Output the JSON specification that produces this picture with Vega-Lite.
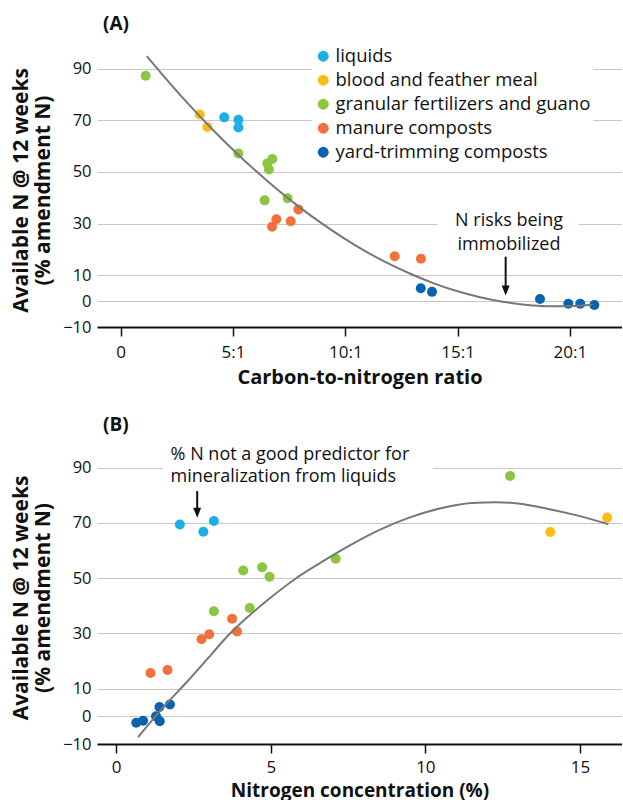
{
  "$schema": "https://vega.github.io/schema/vega-lite/v6.json",
  "padding": {"left": 10, "top": 15, "right": 0, "bottom": 0},
  "spacing": 29,
  "config": {
    "font": "Open Sans",
    "view": {"stroke": null},
    "axis": {"labelFontSize": 17, "labelColor": "#111", "titleFontSize": 20, "titleFontWeight": "bold", "titleColor": "#111", "labelFont": "Open Sans", "titleFont": "Open Sans"},
    "axisX": {"grid": false, "domainColor": "#111", "domainWidth": 2, "tickColor": "#111", "tickWidth": 1.5, "tickSize": 9, "labelPadding": 8, "titlePadding": 7, "zindex": 1},
    "axisY": {"grid": true, "gridColor": "#c8c8c8", "gridWidth": 1.2, "domain": false, "ticks": false, "labelPadding": 6, "labelFontSize": 16.5, "titleFontSize": 21, "titlePadding": 9, "titleLineHeight": 22},
    "title": {"fontSize": 19, "fontWeight": "bold", "anchor": "start", "frame": "group", "offset": 11, "dx": 6, "color": "#111", "font": "Open Sans"}
  },
  "resolve": {"legend": {"color": "independent"}},
  "datasets": {
    "cn": [
      {"type": "granular fertilizers and guano", "cn": 1.11, "avail": 87.2},
      {"type": "blood and feather meal", "cn": 3.52, "avail": 72.2},
      {"type": "blood and feather meal", "cn": 3.86, "avail": 67.4},
      {"type": "liquids", "cn": 4.61, "avail": 71.1},
      {"type": "liquids", "cn": 5.24, "avail": 70.2},
      {"type": "liquids", "cn": 5.24, "avail": 67.2},
      {"type": "granular fertilizers and guano", "cn": 5.24, "avail": 57.1},
      {"type": "granular fertilizers and guano", "cn": 6.75, "avail": 55.0},
      {"type": "granular fertilizers and guano", "cn": 6.53, "avail": 53.3},
      {"type": "granular fertilizers and guano", "cn": 6.6, "avail": 50.9},
      {"type": "granular fertilizers and guano", "cn": 6.41, "avail": 39.0},
      {"type": "granular fertilizers and guano", "cn": 7.43, "avail": 39.8},
      {"type": "manure composts", "cn": 7.91, "avail": 35.5},
      {"type": "manure composts", "cn": 6.93, "avail": 31.7},
      {"type": "manure composts", "cn": 7.57, "avail": 30.9},
      {"type": "manure composts", "cn": 6.74, "avail": 28.8},
      {"type": "manure composts", "cn": 12.2, "avail": 17.4},
      {"type": "manure composts", "cn": 13.37, "avail": 16.4},
      {"type": "yard-trimming composts", "cn": 13.36, "avail": 5.0},
      {"type": "yard-trimming composts", "cn": 13.86, "avail": 3.6},
      {"type": "yard-trimming composts", "cn": 18.67, "avail": 0.8},
      {"type": "yard-trimming composts", "cn": 19.93, "avail": -1.0},
      {"type": "yard-trimming composts", "cn": 20.46, "avail": -1.0},
      {"type": "yard-trimming composts", "cn": 21.09, "avail": -1.5}
    ],
    "cnTrend": [
      {"cn": 1.16, "avail": 94.8}, {"cn": 2, "avail": 86.2}, {"cn": 3, "avail": 76.4}, {"cn": 4, "avail": 67.2},
      {"cn": 5, "avail": 58.6}, {"cn": 6, "avail": 50.5}, {"cn": 7, "avail": 43.0}, {"cn": 8, "avail": 36.1},
      {"cn": 9, "avail": 29.8}, {"cn": 10, "avail": 24.0}, {"cn": 11, "avail": 18.8}, {"cn": 12, "avail": 14.2},
      {"cn": 13, "avail": 10.2}, {"cn": 14, "avail": 6.7}, {"cn": 15, "avail": 3.8}, {"cn": 16, "avail": 1.5},
      {"cn": 17, "avail": -0.2}, {"cn": 18, "avail": -1.35}, {"cn": 19, "avail": -1.93}, {"cn": 20, "avail": -1.93},
      {"cn": 21, "avail": -1.4}
    ],
    "pn": [
      {"type": "liquids", "pn": 2.06, "avail": 69.4},
      {"type": "liquids", "pn": 2.82, "avail": 66.8},
      {"type": "liquids", "pn": 3.16, "avail": 70.7},
      {"type": "blood and feather meal", "pn": 14.04, "avail": 66.7},
      {"type": "blood and feather meal", "pn": 15.88, "avail": 71.9},
      {"type": "granular fertilizers and guano", "pn": 12.74, "avail": 87.0},
      {"type": "granular fertilizers and guano", "pn": 7.1, "avail": 57.0},
      {"type": "granular fertilizers and guano", "pn": 4.11, "avail": 52.8},
      {"type": "granular fertilizers and guano", "pn": 4.72, "avail": 53.9},
      {"type": "granular fertilizers and guano", "pn": 4.96, "avail": 50.5},
      {"type": "granular fertilizers and guano", "pn": 3.16, "avail": 38.0},
      {"type": "granular fertilizers and guano", "pn": 4.32, "avail": 39.2},
      {"type": "manure composts", "pn": 3.75, "avail": 35.3},
      {"type": "manure composts", "pn": 3.91, "avail": 30.7},
      {"type": "manure composts", "pn": 3.01, "avail": 29.7},
      {"type": "manure composts", "pn": 2.76, "avail": 27.9},
      {"type": "manure composts", "pn": 1.11, "avail": 15.7},
      {"type": "manure composts", "pn": 1.66, "avail": 16.8},
      {"type": "yard-trimming composts", "pn": 1.74, "avail": 4.3},
      {"type": "yard-trimming composts", "pn": 1.4, "avail": 3.4},
      {"type": "yard-trimming composts", "pn": 1.29, "avail": 0.0},
      {"type": "yard-trimming composts", "pn": 1.41, "avail": -1.8},
      {"type": "yard-trimming composts", "pn": 0.87, "avail": -1.6},
      {"type": "yard-trimming composts", "pn": 0.65, "avail": -2.3}
    ],
    "pnTrend": [
      {"pn": 0.71, "avail": -7.5}, {"pn": 1.5, "avail": 3.0}, {"pn": 2.3, "avail": 12.6}, {"pn": 3.0, "avail": 21.4},
      {"pn": 3.65, "avail": 29.6}, {"pn": 4.3, "avail": 36.4}, {"pn": 5.0, "avail": 43.0}, {"pn": 5.8, "avail": 49.8},
      {"pn": 6.6, "avail": 55.5}, {"pn": 7.5, "avail": 61.5}, {"pn": 8.5, "avail": 67.4}, {"pn": 9.5, "avail": 72.0},
      {"pn": 10.5, "avail": 75.3}, {"pn": 11.5, "avail": 77.2}, {"pn": 12.3, "avail": 77.5}, {"pn": 13.0, "avail": 77.0},
      {"pn": 13.9, "avail": 75.2}, {"pn": 14.9, "avail": 72.7}, {"pn": 15.92, "avail": 69.5}
    ]
  },
  "vconcat": [
    {
      "title": "(A)",
      "width": 525,
      "height": 274,
      "layer": [
        {
          "data": {"values": [{}]},
          "mark": {"type": "rect", "fill": "white"},
          "encoding": {
            "x": {"datum": 14.1, "type": "quantitative"},
            "x2": {"datum": 20.4},
            "y": {"datum": 35.5, "type": "quantitative"},
            "y2": {"datum": 17.3}
          }
        },
        {
          "data": {"name": "cn"},
          "mark": {"type": "circle", "size": 100, "opacity": 1},
          "encoding": {
            "x": {"field": "cn", "type": "quantitative", "scale": {"domain": [-1.055, 22.32], "nice": false, "zero": false},
              "axis": {"values": [0, 5, 10, 15, 20], "labelExpr": "datum.value == 0 ? '0' : datum.value + ':1'", "title": "Carbon-to-nitrogen ratio"}},
            "y": {"field": "avail", "type": "quantitative", "scale": {"domain": [-10, 96], "nice": false, "zero": false},
              "axis": {"values": [-10, 0, 10, 30, 50, 70, 90], "title": ["Available N @ 12 weeks", "(% amendment N)"]}},
            "color": {"field": "type", "type": "nominal",
              "scale": {"domain": ["liquids", "blood and feather meal", "granular fertilizers and guano", "manure composts", "yard-trimming composts"], "range": ["#1cb0e6", "#fdbb16", "#8cc63f", "#f2703c", "#0a63b0"]},
              "legend": {"orient": "none", "legendX": 215, "legendY": -8, "title": null, "fillColor": "white", "padding": 2, "labelFontSize": 18.5, "labelColor": "#111", "labelOffset": 3, "labelLimit": 500, "symbolType": "circle", "symbolSize": 120, "symbolStrokeWidth": 0, "symbolOpacity": 1, "rowPadding": 5, "labelFont": "Open Sans"}}
          }
        },
        {
          "data": {"name": "cnTrend"},
          "mark": {"type": "line", "color": "#777777", "strokeWidth": 2, "interpolate": "monotone"},
          "encoding": {
            "x": {"field": "cn", "type": "quantitative"},
            "y": {"field": "avail", "type": "quantitative"}
          }
        },
        {
          "data": {"values": [{}]},
          "mark": {"type": "rule", "color": "#111", "strokeWidth": 2},
          "encoding": {
            "x": {"datum": 17.14, "type": "quantitative"},
            "y": {"datum": 17.2, "type": "quantitative"},
            "y2": {"datum": 5.3}
          }
        },
        {
          "data": {"values": [{}]},
          "mark": {"type": "point", "shape": "M-0.8,-1L0.8,-1L0,1Z", "size": 100, "filled": true, "color": "#111", "opacity": 1},
          "encoding": {
            "x": {"datum": 17.14, "type": "quantitative"},
            "y": {"datum": 4.15, "type": "quantitative"}
          }
        },
        {
          "data": {"values": [{}]},
          "mark": {"type": "text", "fontSize": 18, "color": "#111", "align": "center", "baseline": "middle", "font": "Open Sans"},
          "encoding": {
            "x": {"datum": 17.29, "type": "quantitative"},
            "y": {"datum": 30.9, "type": "quantitative"},
            "text": {"value": "N risks being"}
          }
        },
        {
          "data": {"values": [{}]},
          "mark": {"type": "text", "fontSize": 18, "color": "#111", "align": "center", "baseline": "middle", "font": "Open Sans"},
          "encoding": {
            "x": {"datum": 17.29, "type": "quantitative"},
            "y": {"datum": 21.6, "type": "quantitative"},
            "text": {"value": "immobilized"}
          }
        }
      ]
    },
    {
      "title": "(B)",
      "width": 525,
      "height": 293,
      "layer": [
        {
          "data": {"values": [{}]},
          "mark": {"type": "rect", "fill": "white"},
          "encoding": {
            "x": {"datum": 1.5, "type": "quantitative"},
            "x2": {"datum": 10.25},
            "y": {"datum": 96, "type": "quantitative"},
            "y2": {"datum": 83.0}
          }
        },
        {
          "data": {"name": "pn"},
          "mark": {"type": "circle", "size": 100, "opacity": 1},
          "encoding": {
            "x": {"field": "pn", "type": "quantitative", "scale": {"domain": [-0.62, 16.36], "nice": false, "zero": false},
              "axis": {"values": [0, 5, 10, 15], "title": "Nitrogen concentration (%)", "labelPadding": 6, "titlePadding": 6, "titleFontSize": 19}},
            "y": {"field": "avail", "type": "quantitative", "scale": {"domain": [-10, 96], "nice": false, "zero": false},
              "axis": {"values": [-10, 0, 10, 30, 50, 70, 90], "title": ["Available N @ 12 weeks", "(% amendment N)"]}},
            "color": {"field": "type", "type": "nominal",
              "scale": {"domain": ["liquids", "blood and feather meal", "granular fertilizers and guano", "manure composts", "yard-trimming composts"], "range": ["#1cb0e6", "#fdbb16", "#8cc63f", "#f2703c", "#0a63b0"]},
              "legend": null}
          }
        },
        {
          "data": {"name": "pnTrend"},
          "mark": {"type": "line", "color": "#777777", "strokeWidth": 2, "interpolate": "monotone"},
          "encoding": {
            "x": {"field": "pn", "type": "quantitative"},
            "y": {"field": "avail", "type": "quantitative"}
          }
        },
        {
          "data": {"values": [{}]},
          "mark": {"type": "rule", "color": "#111", "strokeWidth": 2},
          "encoding": {
            "x": {"datum": 2.62, "type": "quantitative"},
            "y": {"datum": 81.5, "type": "quantitative"},
            "y2": {"datum": 74.6}
          }
        },
        {
          "data": {"values": [{}]},
          "mark": {"type": "point", "shape": "M-0.8,-1L0.8,-1L0,1Z", "size": 100, "filled": true, "color": "#111", "opacity": 1},
          "encoding": {
            "x": {"datum": 2.62, "type": "quantitative"},
            "y": {"datum": 73.7, "type": "quantitative"}
          }
        },
        {
          "data": {"values": [{}]},
          "mark": {"type": "text", "fontSize": 18, "color": "#111", "align": "left", "baseline": "middle", "font": "Open Sans"},
          "encoding": {
            "x": {"datum": 1.76, "type": "quantitative"},
            "y": {"datum": 94.5, "type": "quantitative"},
            "text": {"value": "% N not a good predictor for"}
          }
        },
        {
          "data": {"values": [{}]},
          "mark": {"type": "text", "fontSize": 18, "color": "#111", "align": "left", "baseline": "middle", "font": "Open Sans"},
          "encoding": {
            "x": {"datum": 1.76, "type": "quantitative"},
            "y": {"datum": 86.7, "type": "quantitative"},
            "text": {"value": "mineralization from liquids"}
          }
        }
      ]
    }
  ]
}
